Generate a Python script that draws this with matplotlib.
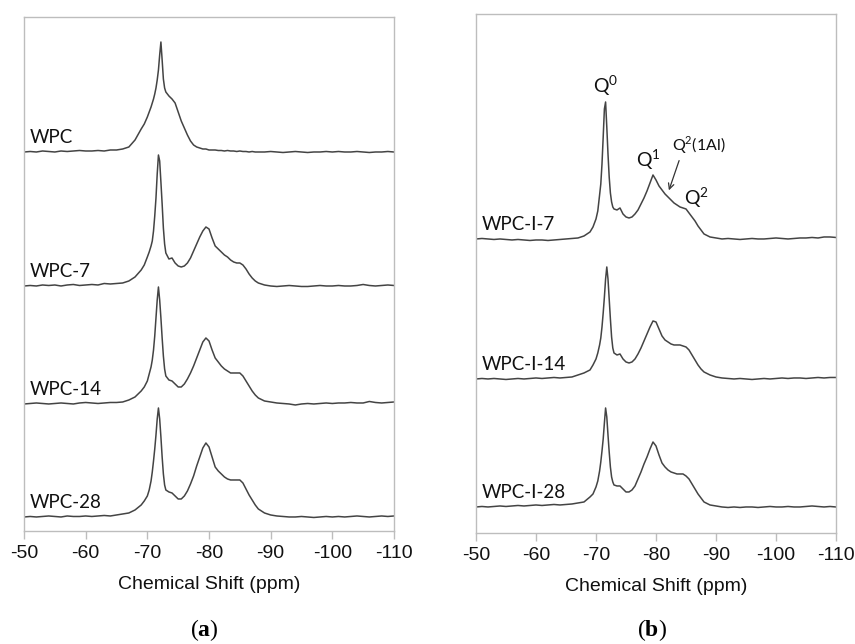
import numpy as np
import matplotlib
matplotlib.use("Agg")
from matplotlib import pyplot as plt

plt.rcParams["mathtext.fontset"] = "custom"
plt.rcParams["mathtext.rm"] = "Lato"
plt.rcParams["mathtext.bf"] = "Liberation Serif:bold"

# chemical shift sampling points (ppm), denser around the peaks
ppm = [-50, -51, -52, -53, -54, -55, -56, -57, -58, -59, -60, -61, -62, -63, -64, -65,
       -66, -67, -68, -69,
       -69.5, -70, -70.3, -70.6, -70.8, -71, -71.2, -71.4, -71.6, -71.8, -72, -72.2,
       -72.4, -72.6, -72.8, -73,
       -73.5, -74, -74.5, -75, -75.5, -76, -76.5, -77, -77.5, -78, -78.5, -79, -79.5,
       -80, -80.5, -81, -81.5, -82, -82.5, -83, -83.5, -84, -84.5, -85, -85.5, -86,
       -86.5, -87, -87.5, -88,
       -89, -90, -91, -92, -93, -94, -95, -96, -97, -98, -99, -100, -101, -102, -103,
       -104, -105, -106, -107, -108, -109, -110]

# panel (a): cement pastes
wpc = [0, 0.5, 0, 1, 0.5, 0, 1, 0.5, 1, 1.5, 1, 1, 1.5, 1, 2, 2,
       3, 5, 12, 23,
       28, 35, 40, 45, 49, 53, 58, 64, 72, 82, 97, 110, 92, 73, 64, 60,
       56, 53, 49, 40, 31, 24, 17, 11, 7, 5, 4, 3, 3, 2, 2, 2, 1.5, 1.5, 1, 1.5,
       1, 1, 0.5, 1, 0.5, 0.5, 0, 0.5, 0, 0,
       0, 0.5, 0, -0.5, 0, 0.5, 0, -0.5, 0, 0, 0.5, 0, 0.5, 0, 0, 0.5, 0, -0.5, 0, 0, 0.5, 0]
wpc_7 = [0, 0.5, 0, 1, 0.5, 1, 0, 1, 1.5, 0.5, 1, 1.5, 1, 2.5, 2, 2.5,
         3, 5, 9, 16,
         21, 29, 34, 40, 45, 55, 70, 88, 112, 131, 125, 104, 82, 58, 42, 33,
         27, 28, 23, 20, 19, 20, 23, 28, 35, 42, 49, 55, 59, 57, 48, 40, 37, 34, 31, 29,
         26, 24, 23, 23, 21, 17, 12, 8, 5, 3,
         1, 0, -0.5, 0, 0.5, 0, -0.5, -0.5, 0, 0.5, 0, 0, 0.5, 0, 0, 0.5, 1.5, 0.5, 0, 0.5, 1, 0.5]
wpc_14 = [0, 0.5, 1, 0.5, 0, 0.5, 1, 0.5, 0, 1, 1.5, 1, 0.5, 1, 1.5, 1.5,
          2, 4, 7, 13,
          17, 23, 30, 37, 44, 54, 68, 86, 104, 117, 104, 86, 66, 48, 35, 28,
          24, 23, 20, 17, 17, 20, 25, 31, 38, 46, 54, 62, 66, 63, 54, 46, 42, 38, 35, 33,
          31, 31, 31, 31, 28, 23, 18, 13, 9, 6,
          3, 2, 1, 0.5, 0, -1, 0, 0.5, 0, 0.5, 1, 0.5, 1, 1, 1.5, 1, 1, 2.5, 1.5, 1, 1.5, 2]
wpc_28 = [0, 0.5, 0, 0.5, 1, 0.5, 0, 1, 0.5, 0.5, 1, 0.5, 1, 1.5, 1, 2,
          3, 4, 7, 12,
          16, 21, 27, 36, 45, 56, 68, 82, 98, 109, 98, 80, 60, 43, 32, 27,
          25, 24, 21, 18, 18, 21, 26, 33, 41, 51, 60, 69, 74, 70, 60, 50, 46, 43, 40, 38,
          37, 37, 37, 37, 34, 28, 22, 17, 12, 8,
          4, 2, 1, 0.5, 0, 0, 0.5, 0, -0.5, 0, 0.5, 0, 0.5, 0, 0.5, 1, 0.5, 0, 0.5, 1, 0.5, 1]

# panel (b): pastes with inhibitor
wpci_7 = [0, 0.5, 0, -0.5, 0, -0.5, -1, -0.5, -1, -1.5, -1, -1, -1.5, -1, -0.5, 0,
          0.5, 1, 3, 7,
          12, 20, 28, 44, 55, 75, 102, 130, 137, 112, 85, 62, 46, 37, 32, 30,
          29, 31, 25, 22, 21, 22, 25, 29, 35, 41, 48, 56, 64, 59, 53, 49, 45, 42, 39, 36,
          34, 32, 31, 30, 26, 22, 18, 13, 9, 5,
          2, 1, 0, 0.5, 0, -0.5, 0, 0.5, 0, 0, 0.5, 1, 0.5, 0, 0.5, 1, 1, 1.5, 1, 2, 2, 1.5]
wpci_14 = [0, 0.5, 0, 0.5, 0, -0.5, 0, 0.5, 0, 0.5, 1, 0.5, 1, 1.5, 1, 1.5,
           2, 4, 6, 9,
           14, 20, 26, 34, 41, 52, 66, 82, 100, 112, 100, 80, 60, 42, 31, 26,
           24, 25, 20, 17, 16, 17, 20, 25, 31, 38, 45, 52, 58, 57, 50, 43, 39, 37, 35, 34,
           34, 34, 33, 32, 29, 24, 19, 14, 10, 7,
           4, 2, 1, 0.5, 0, 0.5, 0, -0.5, 0, 0.5, 0, 0.5, 1, 0.5, 1, 1, 0.5, 1, 1.5, 1, 1.5, 1.5]
wpci_28 = [0, 0.5, 0, 0.5, 1, 0.5, 1, 1.5, 1, 1.5, 2, 1.5, 2, 2.5, 2, 2.5,
           3, 4, 5, 10,
           13, 20, 26, 36, 45, 56, 68, 84, 99, 90, 72, 55, 40, 30, 25, 22,
           21, 21, 18, 15, 15, 17, 21, 28, 35, 43, 50, 58, 65, 61, 52, 44, 40, 37, 35, 34,
           33, 33, 33, 31, 28, 23, 18, 13, 9, 5,
           2, 1, 0, -0.5, 0, -0.5, 0, 0, -0.5, 0, 0.5, 0, 0, 0.5, 0, 0, 0.5, 1, 0.5, 0, 0.5, 0]

labels_a = ["WPC", "WPC-7", "WPC-14", "WPC-28"]
labels_b = ["WPC-I-7", "WPC-I-14", "WPC-I-28"]
xticks = [-50, -60, -70, -80, -90, -100, -110]

line_color = "#444444"
frame_color = "#bdbdbd"
text_color = "#111111"


def stack_panel(ax, spectra, names, offsets, top):
    for y, name, off in zip(spectra, names, offsets):
        ax.plot(ppm, np.array(y) + off, color=line_color, lw=1.1)
        ax.text(-51.0, off + 9, name, family="Lato", fontsize=13.5,
                color=text_color, va="baseline", ha="left")
    ax.set_xlim(-50, -110)
    ax.set_ylim(0, top)
    ax.set_yticks([])
    ax.set_xticks(xticks)
    ax.set_xticklabels([str(t) for t in xticks], family="Liberation Sans", fontsize=14)
    ax.tick_params(axis="x", direction="out", length=6, width=1,
                   color=frame_color, pad=4, labelcolor=text_color)
    for s in ax.spines.values():
        s.set_color(frame_color)
        s.set_linewidth(1)
    ax.set_xlabel("Chemical Shift (ppm)", family="Liberation Sans", fontsize=14,
                  color=text_color, labelpad=10)


fig = plt.figure(figsize=(8.55, 6.44), dpi=100)
ax1 = fig.add_axes([0.0281, 0.1755, 0.4327, 0.7981])
ax2 = fig.add_axes([0.5567, 0.1724, 0.4211, 0.8059])

stack_panel(ax1, [wpc, wpc_7, wpc_14, wpc_28], labels_a, [379, 245, 127, 14], 514)
stack_panel(ax2, [wpci_7, wpci_14, wpci_28], labels_b, [294, 154, 26], 519)

# peak assignments on the top trace of panel (b)
ax2.text(-71.67, 447, r"Q$^{\mathrm{0}}$", family="Lato", fontsize=14,
         ha="center", va="center", color=text_color)
ax2.text(-78.67, 373, r"Q$^{\mathrm{1}}$", family="Lato", fontsize=14,
         ha="center", va="center", color=text_color)
ax2.text(-86.8, 335, r"Q$^{\mathrm{2}}$", family="Lato", fontsize=14,
         ha="center", va="center", color=text_color)
ax2.text(-82.6, 388, r"Q$^{\mathrm{2}}$(1Al)", family="Lato", fontsize=11.5,
         ha="left", va="center", color=text_color)
ax2.annotate("", xy=(-82.0, 340), xytext=(-84.0, 375),
             arrowprops=dict(arrowstyle="->", color="#333333", lw=0.9))

fig.text(0.2386, 0.022, r"($\mathbf{a}$)", family="Liberation Serif", fontsize=17,
         ha="center", va="center")
fig.text(0.7626, 0.022, r"($\mathbf{b}$)", family="Liberation Serif", fontsize=17,
         ha="center", va="center")

fig.savefig("out.png", dpi=100)
